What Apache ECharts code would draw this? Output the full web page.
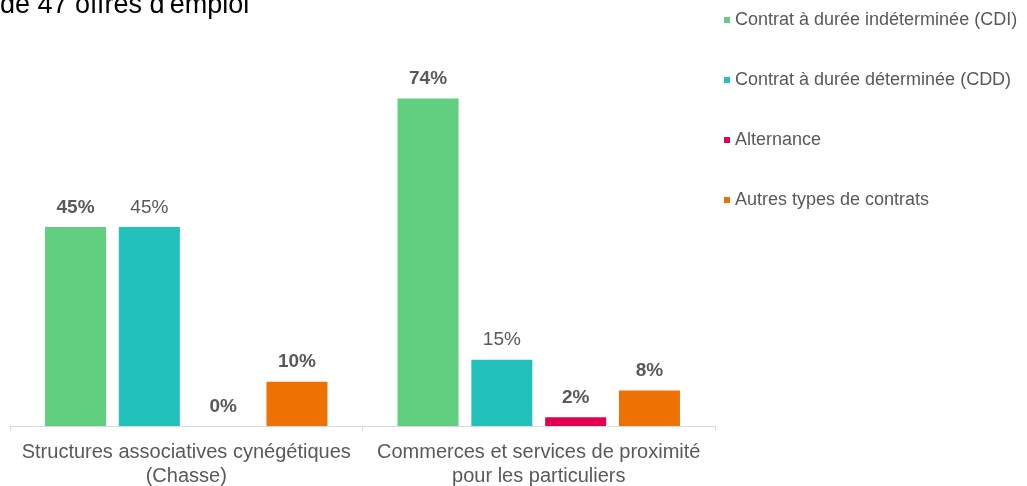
<!DOCTYPE html>
<html>
<head>
<meta charset="utf-8">
<script src="https://cdn.jsdelivr.net/npm/echarts@6/dist/echarts.min.js"></script>
<style>
  html, body { margin: 0; padding: 0; background: #fff; }
  #main { width: 1027px; height: 486px; }
</style>
</head>
<body>
<div id="main"></div>
<script>
// categories and series (percent of offers)
var categories = [
  "Structures associatives cynégétiques\n(Chasse)",
  "Commerces et services de proximité\npour les particuliers"
];
var seriesNames = [
  "Contrat à durée indéterminée (CDI)",
  "Contrat à durée déterminée (CDD)",
  "Alternance",
  "Autres types de contrats"
];
var cdiValues = [45, 74];
var cddValues = [45, 15];
var alternanceValues = [0, 2];
var autresValues = [10, 8];

var colors = ["#61CE80", "#22C1BB", "#E2004F", "#EE7203"];
var boldLabels = [true, false, true, true];

var chart = echarts.init(document.getElementById("main"));

function makeSeries(i, data) {
  return {
    name: seriesNames[i],
    type: "bar",
    data: data,
    barWidth: 61,
    barGap: "21%",
    itemStyle: { color: colors[i] },
    label: {
      show: true,
      position: "top",
      distance: 10,
      formatter: "{c}%",
      color: "#595959",
      fontSize: 19,
      fontWeight: boldLabels[i] ? "bold" : "normal",
      fontFamily: "Liberation Sans"
    }
  };
}

var option = {
  animation: false,
  textStyle: { fontFamily: "Liberation Sans" },
  title: {
    text: "de 47 offres d'emploi",
    left: -5,
    top: -13,
    textStyle: { fontSize: 27, fontWeight: "normal", color: "#000", fontFamily: "Liberation Sans" }
  },
  legend: {
    orient: "vertical",
    left: 719,
    top: 6,
    itemWidth: 6,
    itemHeight: 6,
    itemGap: 42,
    icon: "rect",
    data: seriesNames,
    textStyle: { fontSize: 18, color: "#595959", fontFamily: "Liberation Sans" }
  },
  grid: { left: 10, right: 312, top: 72, bottom: 60, outerBoundsMode: "none" },
  xAxis: {
    type: "category",
    data: categories,
    axisLine: { lineStyle: { color: "#D9D9D9", width: 1 } },
    axisTick: { show: true, length: 5, lineStyle: { color: "#D9D9D9" } },
    axisLabel: {
      color: "#595959",
      fontSize: 20,
      lineHeight: 24,
      margin: 14,
      interval: 0,
      fontFamily: "Liberation Sans"
    }
  },
  yAxis: {
    type: "value",
    min: 0,
    max: 80,
    show: false,
    splitLine: { show: false }
  },
  series: [
    makeSeries(0, cdiValues),
    makeSeries(1, cddValues),
    makeSeries(2, alternanceValues),
    makeSeries(3, autresValues)
  ]
};

chart.setOption(option);
</script>
</body>
</html>
